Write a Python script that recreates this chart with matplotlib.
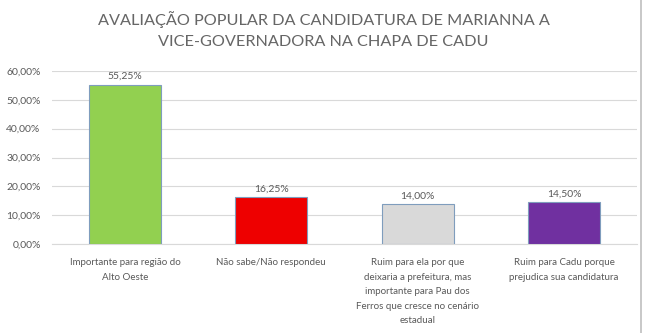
import numpy as np
import matplotlib
matplotlib.use('Agg')
import matplotlib.pyplot as plt
from matplotlib.ticker import FuncFormatter

categorias = ['Importante para região do\nAlto Oeste',
              'Não sabe/Não respondeu',
              'Ruim para ela por que\ndeixaria a prefeitura, mas\nimportante para Pau dos\nFerros que cresce no cenário\nestadual',
              'Ruim para Cadu porque\nprejudica sua candidatura']
valores = [55.25, 16.25, 14.00, 14.50]
cores = ['#92d050', '#ee0000', '#d9d9d9', '#7030a0']

titulo = 'AVALIAÇÃO POPULAR DA CANDIDATURA DE MARIANNA A\nVICE-GOVERNADORA NA CHAPA DE CADU'

cinza = '#595959'
plt.rcParams['font.family'] = ['Lato', 'DejaVu Sans']

fig = plt.figure(figsize=(6.47, 3.33), dpi=100)
ax = fig.add_axes([0.08, 0.267, 0.905, 0.52])

pos = np.arange(len(categorias))
ax.bar(pos, valores, width=0.49, color=cores, edgecolor='#7f9dbd', linewidth=0.8, zorder=3)

for i, v in enumerate(valores):
    ax.text(pos[i], v + 1.2, '{:.2f}%'.format(v).replace('.', ','),
            ha='center', va='bottom', fontsize=7.5, color=cinza)

ax.set_ylim(0, 60)
ax.set_xlim(-0.5, 3.5)
ax.set_yticks(np.arange(0, 61, 10))
ax.yaxis.set_major_formatter(FuncFormatter(lambda y, _: '{:.2f}%'.format(y).replace('.', ',')))
ax.grid(axis='y', color='#d9d9d9', linewidth=0.8, zorder=0)
ax.set_xticks(pos)
ax.set_xticklabels(categorias, fontsize=7, color=cinza, linespacing=1.8, va='top')
ax.tick_params(axis='both', length=0, colors=cinza)
ax.tick_params(axis='y', labelsize=7.5, pad=8)
ax.tick_params(axis='x', pad=10)
for lado in ['top', 'right', 'left']:
    ax.spines[lado].set_visible(False)
ax.spines['bottom'].set_color('#d9d9d9')

fig.text(0.5, 0.967, titulo, ha='center', va='top', fontsize=11.7, color='#666666',
         linespacing=1.6)

# borda cinza à direita
fig.add_artist(plt.Line2D([0.991, 0.991], [0, 1], color='#bfbfbf', linewidth=1.2))

fig.savefig('out.png', dpi=100)
